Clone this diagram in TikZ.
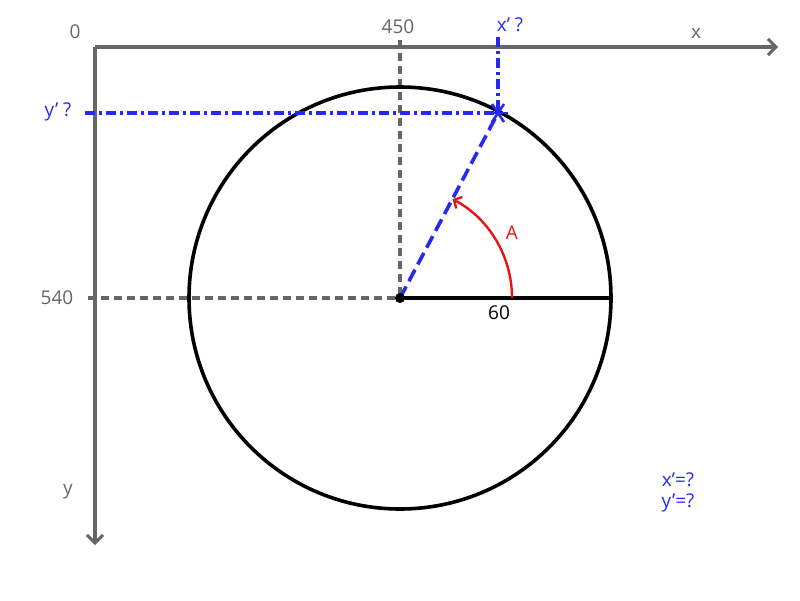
\documentclass[tikz,border=0pt]{standalone}
\usepackage{fontspec}
\setmainfont{Open Sans}
\usetikzlibrary{arrows.meta,calc}
\definecolor{axgray}{RGB}{102,102,102}
\definecolor{qblue}{RGB}{40,40,245}
\definecolor{qred}{RGB}{230,20,20}
\begin{document}
\begin{tikzpicture}[x=1pt,y=-1pt,
  axis/.style={draw=axgray,line width=3.6pt,-{Straight Barb[length=8pt,width=16pt,line width=3pt]}},
  guide/.style={draw=axgray,line width=3.2pt,dash pattern=on 8pt off 5pt},
  bguide/.style={draw=qblue,line width=3.6pt,dash pattern=on 10pt off 4pt on 3pt off 4pt},
  glabel/.style={text=axgray,font=\fontsize{19}{19}\selectfont,inner sep=1pt},
  blabel/.style={text=qblue,font=\fontsize{19}{19}\selectfont,inner sep=1pt},
  ]
\useasboundingbox (0,0) rectangle (800,600);
\coordinate (O) at (95,47);
\coordinate (XE) at (778,47);
\coordinate (YE) at (95,545);
\coordinate (C) at (400,298);
\coordinate (P) at (498,113);
\coordinate (R) at (611,298);
\coordinate (Xt) at (400,40);
\coordinate (Yt) at (88,298);
\coordinate (Bx) at (498,37);
\coordinate (By) at (85,113);
% axes
\draw[axis] (O) -- (XE);
\draw[axis] (O) -- (YE);
% guides
\draw[guide] (Xt) -- (C);
\draw[guide] (Yt) -- (C);
% circle
\draw[black,line width=3.6pt] (C) circle[radius=211];
\draw[black,line width=3.6pt] (C) -- (R);
% blue guides
\draw[bguide] (Bx) -- (P);
\draw[bguide] (By) -- (P);
\draw[qblue,line width=3.6pt,dash pattern=on 13pt off 6pt] (C) -- (P);
% star mark
\draw[qblue,line width=2.6pt] ($(P)+(-10,0)$) -- ($(P)+(10,0)$);
\draw[qblue,line width=2.6pt] ($(P)+(-6,-9)$) -- ($(P)+(6,9)$);
\draw[qblue,line width=2.6pt] ($(P)+(-6,9)$) -- ($(P)+(6,-9)$);
% center dot
\fill[black] (C) circle[radius=5];
% angle arc
\draw[qred,line width=2.4pt,-{Straight Barb[length=6pt,width=13pt,line width=2.4pt]}] ($(C)+(112,0)$) arc[start angle=0,end angle=-62,radius=112];
% labels
\node[glabel] (l0) at (75,32) {0};
\node[glabel] (l450) at (398,27) {450};
\node[glabel] (lx) at (696,33) {x};
\node[glabel] (l540) at (57,298) {540};
\node[glabel] (ly) at (68,492) {y};
\node[blabel] (lxq) at (510,25) {x’ ?};
\node[blabel] (lyq) at (58,112) {y’ ?};
\node[text=black,font=\fontsize{19}{19}\selectfont] (l60) at (499,313) {60};
\node[text=qred,font=\fontsize{19}{19}\selectfont] (lA) at (512,233) {A};
\node[blabel] (lres1) at (678,480) {x’=?};
\node[blabel] (lres2) at (678,503) {y’=?};
\end{tikzpicture}
\end{document}
